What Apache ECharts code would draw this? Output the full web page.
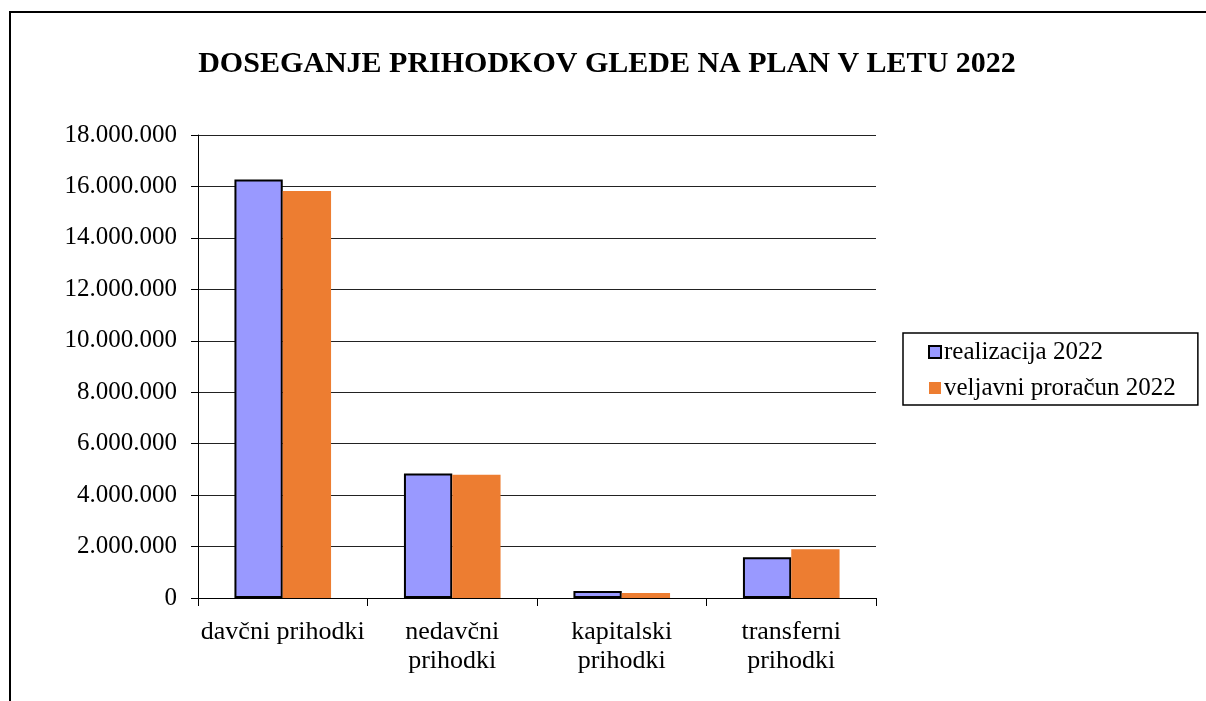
<!DOCTYPE html>
<html>
<head>
<meta charset="utf-8">
<script src="https://cdn.jsdelivr.net/npm/echarts@6/dist/echarts.min.js"></script>
<style>
html,body{margin:0;padding:0;background:#fff;}
#main{width:1206px;height:701px;}
</style>
</head>
<body>
<div id="main"></div>
<script>
const titleText = 'DOSEGANJE PRIHODKOV GLEDE NA PLAN V LETU 2022';
const categories = ['davčni prihodki', 'nedavčni prihodki', 'kapitalski prihodki', 'transferni prihodki'];
const seriesNames = ['realizacija 2022', 'veljavni proračun 2022'];
const realizacija = [16270000, 4840000, 270000, 1580000];
const proracun = [15820000, 4790000, 190000, 1900000];
const yMin = 0, yMax = 18000000, yStep = 2000000;

function fmt(v) {
  return String(Math.round(v)).replace(/\B(?=(\d{3})+(?!\d))/g, '.');
}
// the first label fits on one line in the original, the others wrap
function catFmt(v) {
  return v.length > 16 ? v.replace(' ', '\n') : v;
}

const FONT = '"Liberation Serif", "Times New Roman", serif';
const chart = echarts.init(document.getElementById('main'), null, {renderer: 'canvas'});
chart.setOption({
  animation: false,
  backgroundColor: '#ffffff',
  textStyle: {fontFamily: FONT},
  title: {
    text: titleText,
    left: 602, top: 44, textAlign: 'center',
    textStyle: {fontFamily: FONT, fontWeight: 'bold', fontSize: 30, color: '#000'}
  },
  graphic: [{
    type: 'polyline',
    shape: {points: [[10, 701], [10, 12], [1206, 12]]},
    style: {stroke: '#000', lineWidth: 2, fill: null},
    silent: true
  }],
  legend: {
    orient: 'vertical',
    left: 903, top: 333,
    padding: [6, 22, 4, 25],
    itemGap: 10,
    itemWidth: 12, itemHeight: 12,
    borderColor: '#000', borderWidth: 1.5,
    backgroundColor: '#fff',
    textStyle: {fontFamily: FONT, fontSize: 25, lineHeight: 26, color: '#000', padding: [0, 0, 0, -2]},
    data: seriesNames.map(n => ({name: n, icon: 'rect'}))
  },
  grid: {left: 198, right: 330, top: 135, bottom: 103, containLabel: false},
  xAxis: {
    type: 'category',
    data: categories,
    axisLine: {show: true, lineStyle: {color: '#000', width: 1}},
    axisTick: {show: true, length: 8, lineStyle: {color: '#000'}},
    axisLabel: {
      fontFamily: FONT, fontSize: 26, color: '#000', margin: 20,
      lineHeight: 29, interval: 0, formatter: catFmt
    }
  },
  yAxis: {
    type: 'value',
    min: yMin, max: yMax, interval: yStep,
    axisLine: {show: true, lineStyle: {color: '#000', width: 1}},
    axisTick: {show: true, length: 7, lineStyle: {color: '#000'}},
    splitLine: {show: true, lineStyle: {color: '#222', width: 1}},
    axisLabel: {fontFamily: FONT, fontSize: 25, color: '#000', margin: 21, formatter: fmt}
  },
  series: [{
    name: seriesNames[0],
    type: 'bar',
    data: realizacija,
    barGap: '0%',
    barCategoryGap: '43%',
    itemStyle: {color: '#9999FF', borderColor: '#000', borderWidth: 2}
  }, {
    name: seriesNames[1],
    type: 'bar',
    data: proracun,
    barGap: '0%',
    barCategoryGap: '43%',
    itemStyle: {color: '#ED7D31'}
  }]
});
</script>
</body>
</html>
